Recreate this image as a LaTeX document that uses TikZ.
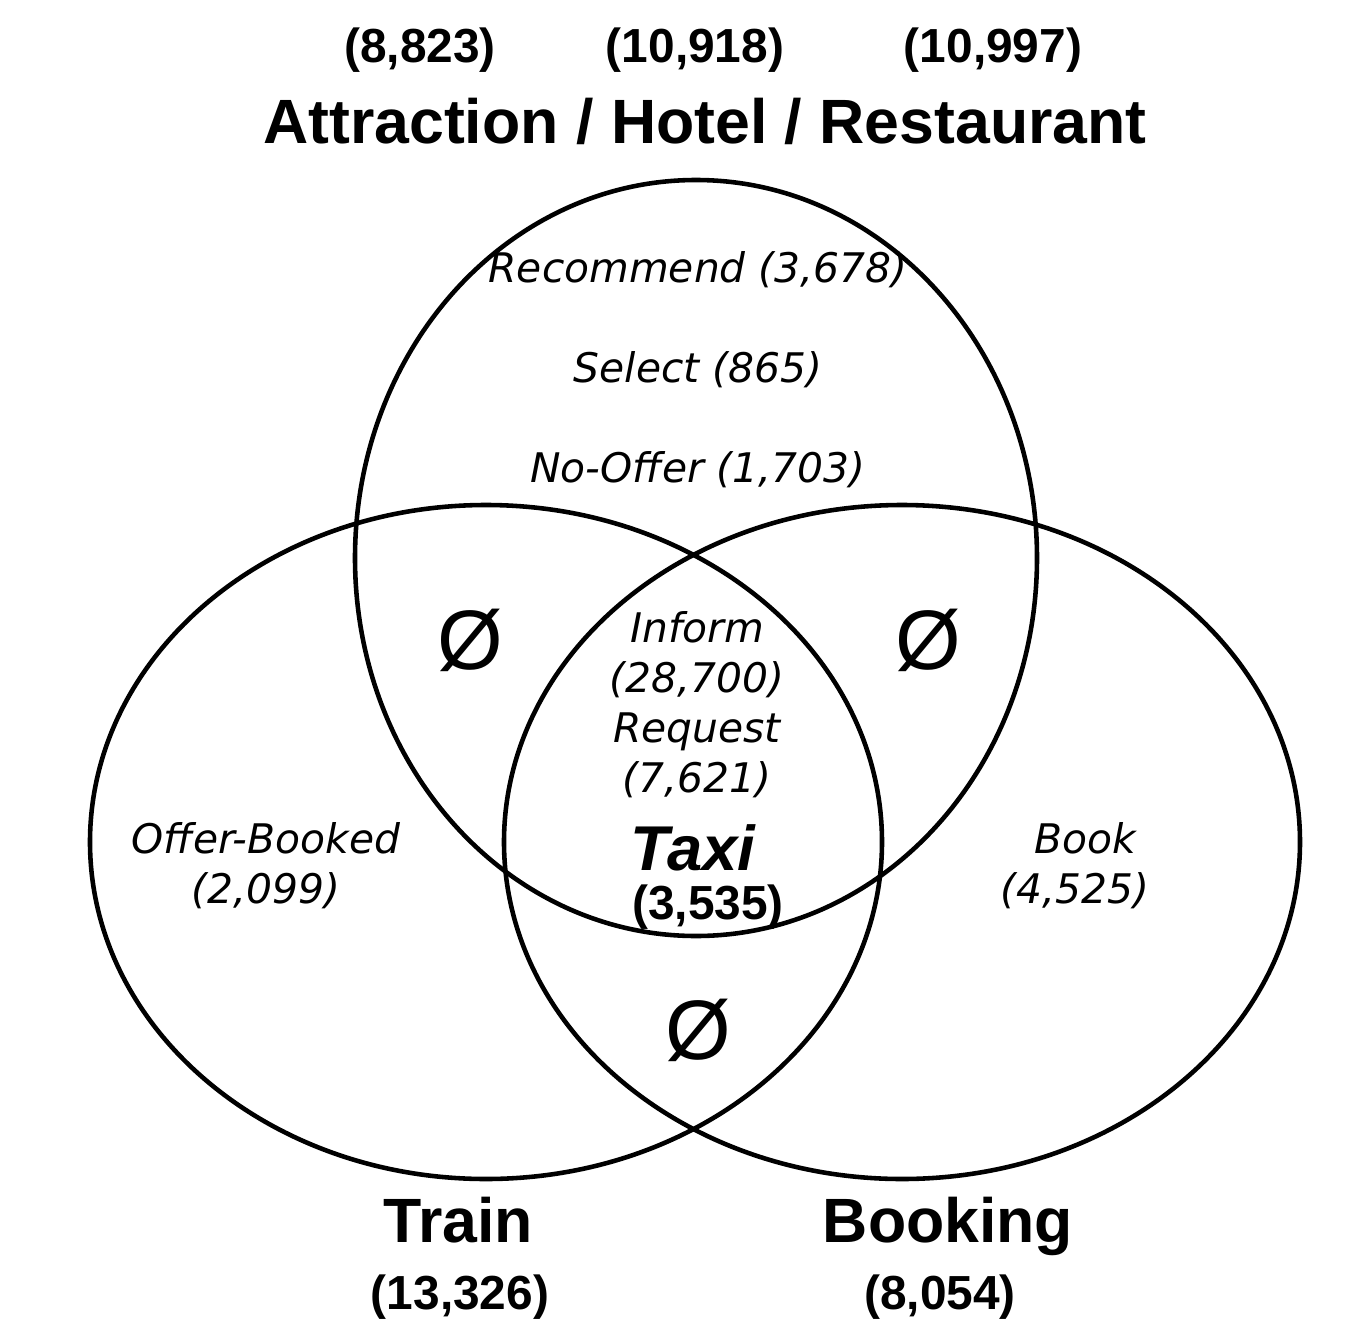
\documentclass[tikz,border=0pt]{standalone}
\usepackage{fontspec}
\setmainfont{Liberation Sans}
\newfontfamily\labelfont{DejaVu Sans}
\begin{document}
\begin{tikzpicture}[
		x=0.01cm, y=-0.01cm,
		thick,
		set/.style={draw, line width=1.3pt},
		title/.style={font=\fontsize{17.8}{20}\selectfont\bfseries, anchor=base},
		count/.style={font=\fontsize{13.6}{16}\selectfont\bfseries},
		act/.style={font=\labelfont\itshape\fontsize{11.6}{14.2}\selectfont, align=center},
		empty/.style={font=\fontsize{24}{26}\selectfont}
	]
		\useasboundingbox (0,0) rectangle (1372,1342);

		% Sets
		\draw[set] (696,558) ellipse [x radius=341, y radius=378];
		\draw[set] (486,842) ellipse [x radius=396, y radius=337];
		\draw[set] (902,842) ellipse [x radius=398, y radius=337];

		% Titles
		\node[count] (c1) at (420,50) {(8,823)};
		\node[count] (c2) at (695,50) {(10,918)};
		\node[count] (c3) at (993,50) {(10,997)};
		\node[title] (ahr) at (705,143) {Attraction / Hotel / Restaurant};
		\node[title] (train) at (458,1242) {Train};
		\node[count] (ctrain) at (460,1297) {(13,326)};
		\node[title] (booking) at (948,1242) {Booking};
		\node[count] (cbooking) at (940,1297) {(8,054)};

		% Acts
		\node[act] (rec) at (698,270) {Recommend (3,678)};
		\node[act] (sel) at (698,370) {Select (865)};
		\node[act] (nooffer) at (698,470) {No-Offer (1,703)};
		\node[act] (inform) at (697,705) {Inform\\(28,700)\\Request\\(7,621)};
		\node[font=\fontsize{18}{20}\selectfont\bfseries\itshape] (taxi) at (693,848) {Taxi};
		\node[count] (ctaxi) at (708,907) {(3,535)};
		\node[act] (offerbooked) at (266,866) {Offer-Booked\\(2,099)};
		\node[act] (book) at (1075,866) {\hspace*{0.5em}Book\\(4,525)};

		% Empty intersections
		\node[empty] (e1) at (470,640) {Ø};
		\node[empty] (e2) at (928,640) {Ø};
		\node[empty] (e3) at (698,1030) {Ø};
\end{tikzpicture}
\end{document}
